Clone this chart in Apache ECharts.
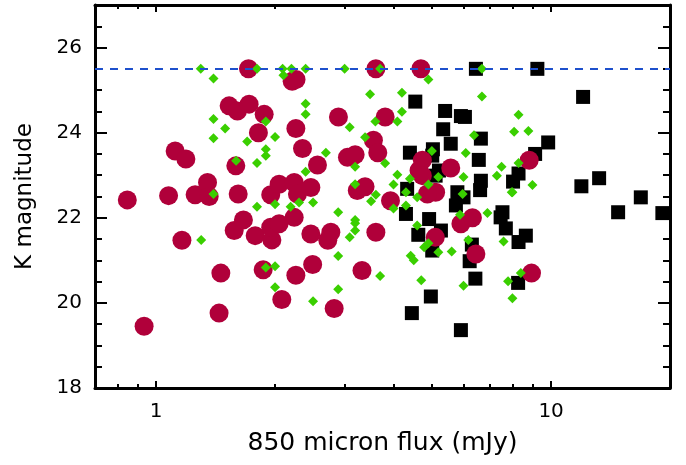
<!DOCTYPE html>
<html>
<head>
<meta charset="utf-8">
<script src="https://cdn.jsdelivr.net/npm/echarts@6/dist/echarts.min.js"></script>
<style>
  html, body { margin: 0; padding: 0; background: #ffffff; }
  #chart { width: 686px; height: 465px; }
</style>
</head>
<body>
<div id="chart"></div>
<script>
// Sources with K-band counterparts: 850 micron flux (mJy) and K magnitude
const circleFlux = [0.845, 0.932, 1.075, 1.162, 1.117, 1.189, 1.255, 1.349, 1.362, 1.458,
  1.443, 1.591, 1.613, 1.576, 1.663, 1.713, 1.530, 1.606, 1.719, 1.877,
  1.815, 1.781, 1.963, 1.950, 2.048, 1.866, 2.080, 1.950, 2.048, 2.210,
  2.260, 2.258, 2.347, 2.561, 2.894, 3.800, 3.600, 4.680, 3.549, 3.640,
  3.050, 3.190, 4.720, 4.630, 4.720, 5.570, 2.236, 2.279, 2.464, 3.230,
  3.380, 5.100, 4.860, 3.920, 2.236, 2.464, 2.769, 2.720, 3.600, 2.490,
  2.258, 2.823, 3.320, 5.090, 5.910, 6.320, 6.450, 8.920, 8.800];
const circleK = [22.42, 19.45, 22.52, 21.47, 23.57, 23.38, 22.54, 22.83, 22.50, 20.70,
  19.76, 23.22, 22.56, 21.70, 21.95, 25.50, 24.63, 24.51, 24.67, 24.43,
  24.00, 21.58, 21.48, 21.78, 21.86, 20.78, 20.08, 22.54, 22.79, 25.21,
  25.25, 24.10, 23.63, 23.24, 24.37, 24.37, 25.50, 25.50, 23.82, 23.53,
  23.42, 23.48, 23.35, 23.11, 22.99, 23.17, 22.83, 22.56, 22.71, 22.64,
  22.73, 22.60, 22.56, 22.40, 22.01, 21.62, 21.66, 21.47, 21.66, 20.90,
  20.65, 19.87, 20.76, 21.54, 21.86, 22.00, 21.15, 20.70, 23.35];

const squareFlux = [6.45, 4.53, 5.39, 5.91, 6.05, 5.33, 5.57, 4.39, 5.02, 5.00,
  6.56, 5.20, 5.10, 4.32, 5.79, 6.64, 6.61, 9.23, 12.05, 6.64,
  9.83, 9.11, 8.27, 8.01, 13.23, 11.93, 16.87, 14.78, 19.13, 7.53,
  7.45, 7.68, 8.63, 8.27, 6.30, 6.22, 6.43, 8.25, 4.29, 4.61,
  4.91, 5.26, 5.00, 5.74, 6.00, 4.96, 4.44, 5.91];
const squareK = [25.50, 24.73, 24.51, 24.39, 24.37, 24.08, 23.74, 23.53, 23.61, 23.46,
  23.36, 23.11, 22.99, 22.68, 22.60, 22.87, 22.65, 25.50, 24.84, 23.86,
  23.77, 23.50, 23.04, 22.85, 22.93, 22.74, 22.48, 22.13, 22.11, 22.13,
  22.01, 21.75, 21.58, 21.43, 21.37, 20.98, 20.57, 20.47, 22.09, 21.60,
  21.97, 21.70, 21.23, 22.29, 22.48, 20.15, 19.76, 19.36];

const diamondFlux = [1.297, 1.397, 1.397, 1.397, 1.495, 1.700, 1.895, 2.000, 1.895, 1.895,
  1.800, 1.594, 1.800, 2.090, 2.100, 1.397, 1.300, 1.800, 2.000, 1.895,
  2.000, 2.000, 2.200, 2.390, 3.000, 3.690, 4.890, 3.480, 4.190, 2.390,
  2.390, 4.190, 4.080, 3.590, 3.090, 3.380, 2.690, 3.190, 3.800, 4.990,
  6.080, 6.380, 4.080, 5.180, 6.000, 3.990, 4.390, 4.890, 4.290, 4.580,
  5.970, 3.190, 3.600, 2.390, 2.190, 2.300, 2.496, 2.890, 3.190, 3.190,
  3.190, 3.090, 2.890, 3.690, 2.890, 2.496, 3.500, 3.990, 4.290, 4.580,
  4.770, 4.890, 4.410, 4.490, 5.180, 5.600, 4.690, 6.000, 6.170, 5.880,
  7.980, 6.900, 7.580, 8.380, 7.780, 7.980, 6.680, 6.680, 8.270, 8.060,
  8.760, 7.490, 7.290, 8.270, 8.970, 7.950];
const diamondK = [25.50, 25.27, 24.32, 23.87, 24.10, 23.79, 24.26, 23.90, 23.61, 23.46,
  23.29, 23.34, 25.50, 25.50, 25.35, 22.56, 21.48, 22.26, 22.32, 20.83,
  20.86, 20.37, 25.50, 25.50, 25.50, 25.50, 25.25, 24.90, 24.94, 24.68,
  24.43, 24.49, 24.26, 24.26, 24.13, 23.89, 23.53, 23.20, 23.28, 23.57,
  23.52, 23.94, 23.01, 22.96, 22.96, 22.78, 22.92, 22.78, 22.60, 22.48,
  22.56, 22.79, 22.54, 23.08, 22.26, 22.36, 22.36, 22.13, 21.95, 21.87,
  21.70, 21.54, 21.10, 20.63, 20.32, 20.04, 22.39, 22.22, 22.29, 21.82,
  21.31, 21.40, 21.11, 21.00, 21.19, 21.21, 20.53, 20.40, 21.48, 22.07,
  22.60, 22.11, 21.44, 20.70, 20.51, 20.11, 25.50, 24.85, 24.42, 24.02,
  24.04, 23.20, 22.99, 23.29, 22.77, 22.60];

// K-band limit
const kLimit = 25.5;

// Axis ranges and tick positions
const fluxRange = [0.7, 20];
const kRange = [18, 27];
const fluxMajor = [1, 10];
const fluxMinor = [0.8, 0.9, 2, 3, 4, 5, 6, 7, 8, 9, 20];
const kMajor = [18, 20, 22, 24, 26];
const kMinor = [18.5, 19, 19.5, 20.5, 21, 21.5, 22.5, 23, 23.5, 24.5, 25, 25.5, 26.5];

const zip = (xs, ys) => xs.map((x, i) => [x, ys[i]]);

const FONT = '"DejaVu Sans", "Liberation Sans", sans-serif';
const AXIS_W = 3;

function xAxisDef(position, ticks, len, opts) {
  return Object.assign({
    type: 'log', logBase: 10, position: position,
    min: fluxRange[0], max: fluxRange[1],
    axisLine: { show: false },
    axisTick: { show: true, inside: true, length: len, customValues: ticks,
      lineStyle: { color: '#000', width: 2 } },
    axisLabel: { show: false },
    splitLine: { show: false }, minorTick: { show: false }, minorSplitLine: { show: false }
  }, opts || {});
}
function yAxisDef(position, ticks, len, opts) {
  return Object.assign({
    type: 'value', position: position,
    min: kRange[0], max: kRange[1],
    axisLine: { show: false },
    axisTick: { show: true, inside: true, length: len, customValues: ticks,
      lineStyle: { color: '#000', width: 2 } },
    axisLabel: { show: false },
    splitLine: { show: false }, minorTick: { show: false }, minorSplitLine: { show: false }
  }, opts || {});
}

const axisLineStyle = { show: true, onZero: false, lineStyle: { color: '#000', width: AXIS_W } };

const chart = echarts.init(document.getElementById('chart'), null, { renderer: 'canvas' });
chart.setOption({
  animation: false,
  backgroundColor: '#ffffff',
  grid: { left: 95, right: 16, top: 5, bottom: 77, containLabel: false, outerBoundsMode: 'none' },
  xAxis: [
    xAxisDef('bottom', fluxMajor, 7, {
      axisLine: axisLineStyle,
      axisLabel: { show: true, customValues: fluxMajor, margin: 14, color: '#000',
        fontSize: 20, fontFamily: FONT, formatter: v => String(v) },
      name: '850 micron flux (mJy)', nameLocation: 'middle', nameGap: 43,
      nameTextStyle: { color: '#000', fontSize: 25, fontFamily: FONT }
    }),
    xAxisDef('bottom', fluxMinor, 4),
    xAxisDef('top', fluxMajor, 7, { axisLine: axisLineStyle }),
    xAxisDef('top', fluxMinor, 4)
  ],
  yAxis: [
    yAxisDef('left', kMajor, 12, {
      axisLine: axisLineStyle,
      axisLabel: { show: true, customValues: kMajor, margin: 13, color: '#000',
        fontSize: 20, fontFamily: FONT },
      name: 'K magnitude', nameLocation: 'middle', nameGap: 58,
      nameTextStyle: { color: '#000', fontSize: 23, fontFamily: FONT }
    }),
    yAxisDef('left', kMinor, 7),
    yAxisDef('right', kMajor, 12, { axisLine: axisLineStyle }),
    yAxisDef('right', kMinor, 7)
  ],
  series: [
    {
      type: 'scatter', name: 'squares', xAxisIndex: 0, yAxisIndex: 0, z: 2,
      symbol: 'rect', symbolSize: 14,
      itemStyle: { color: '#000000', opacity: 1 },
      data: zip(squareFlux, squareK)
    },
    {
      type: 'scatter', name: 'circles', xAxisIndex: 0, yAxisIndex: 0, z: 3,
      symbol: 'circle', symbolSize: 19,
      itemStyle: { color: '#B0003A', opacity: 1 },
      data: zip(circleFlux, circleK)
    },
    {
      type: 'scatter', name: 'diamonds', xAxisIndex: 0, yAxisIndex: 0, z: 4,
      symbol: 'diamond', symbolSize: 10,
      itemStyle: { color: '#3ACF00', opacity: 1 },
      data: zip(diamondFlux, diamondK)
    },
    {
      type: 'scatter', name: 'limit', xAxisIndex: 0, yAxisIndex: 0, z: 5,
      data: [],
      markLine: {
        silent: true, symbol: 'none', animation: false,
        label: { show: false },
        lineStyle: { color: '#1E50CC', width: 2, type: [8, 7], opacity: 1 },
        data: [{ yAxis: kLimit }]
      }
    }
  ]
});
</script>
</body>
</html>
